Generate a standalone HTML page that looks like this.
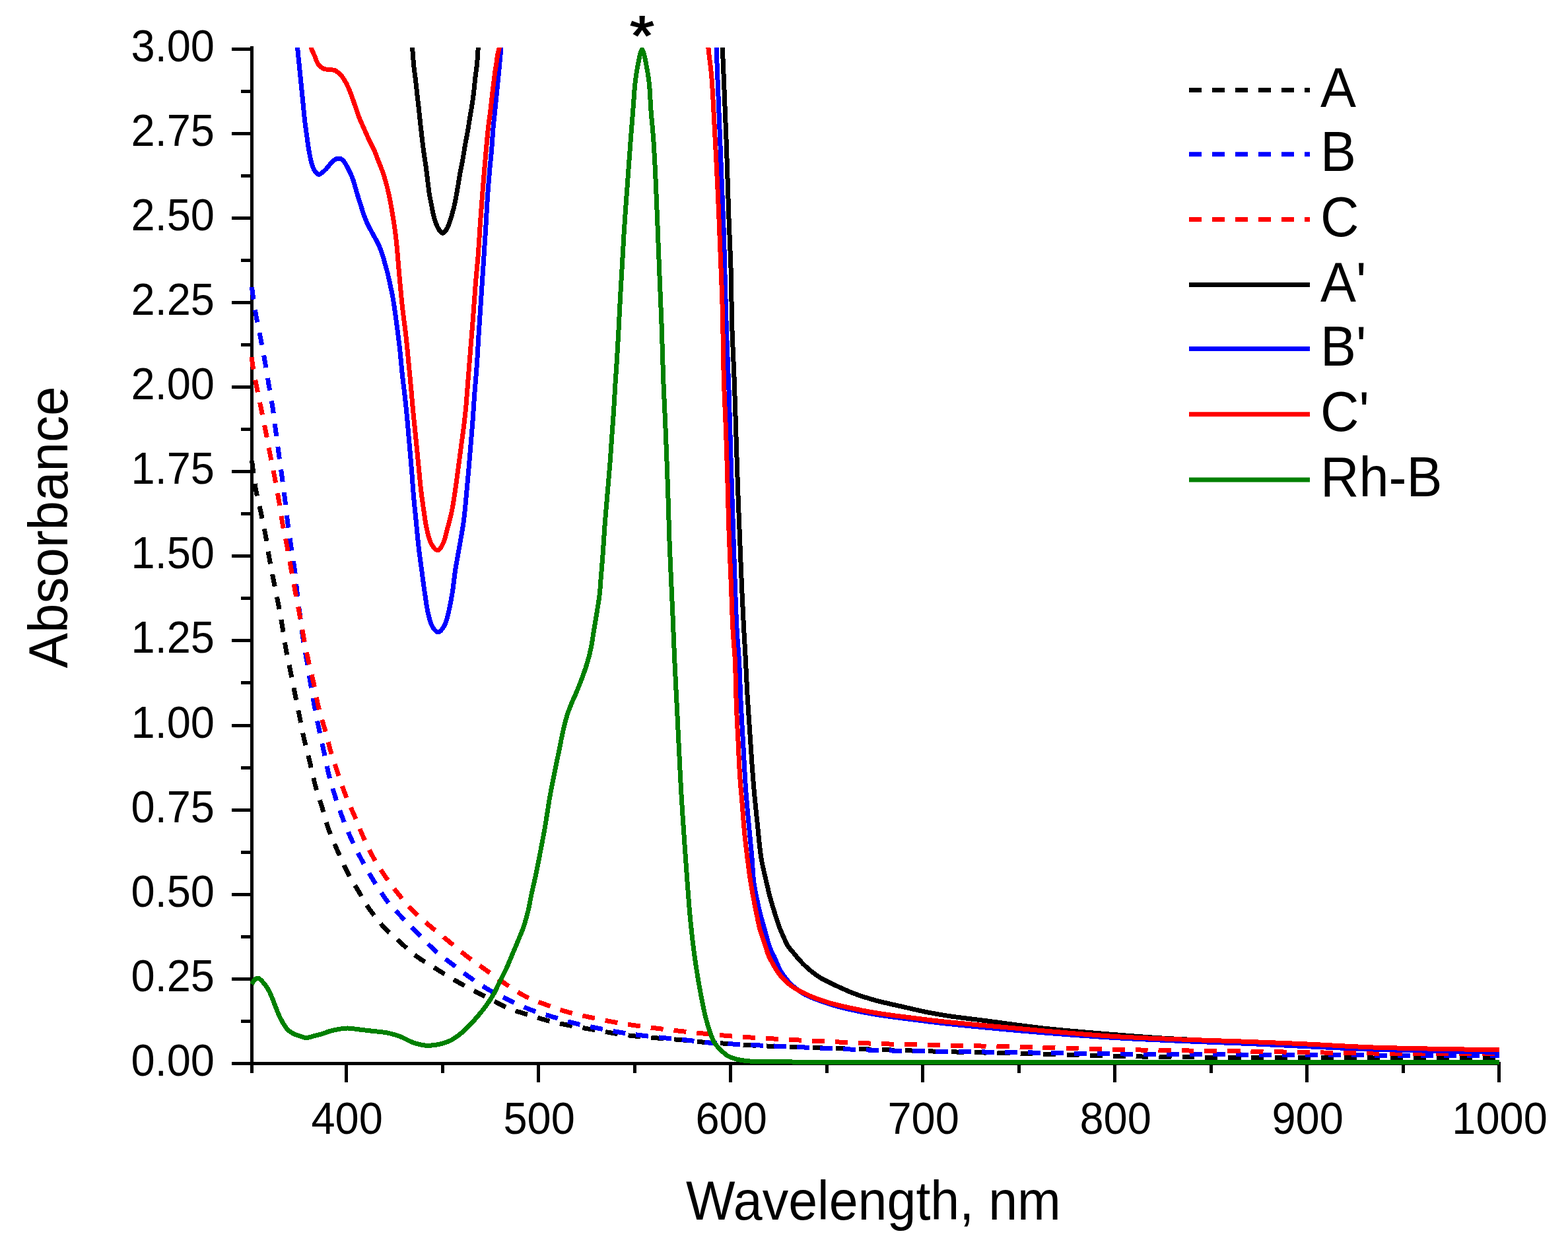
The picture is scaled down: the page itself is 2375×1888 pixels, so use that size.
<!DOCTYPE html>
<html><head><meta charset="utf-8"><title>Absorbance spectra</title>
<style>
html,body{margin:0;padding:0;background:#fff;}
body{width:2375px;height:1888px;overflow:hidden;}
svg{display:block;}
text{font-family:'Liberation Sans',Arial,sans-serif;fill:#000;}
</style></head><body>
<svg width="2375" height="1888" viewBox="0 0 2375 1888">
<rect width="2375" height="1888" fill="#fff"/>
<g stroke="#000" stroke-width="5" stroke-linecap="butt" shape-rendering="crispEdges">
<line x1="381.5" y1="69.5" x2="381.5" y2="1626" />
<line x1="351" y1="1611.5" x2="2273" y2="1611.5" />
<line x1="351" y1="1611.50" x2="381.5" y2="1611.50" />
<line x1="351" y1="1483.38" x2="381.5" y2="1483.38" />
<line x1="351" y1="1355.25" x2="381.5" y2="1355.25" />
<line x1="351" y1="1227.12" x2="381.5" y2="1227.12" />
<line x1="351" y1="1099.00" x2="381.5" y2="1099.00" />
<line x1="351" y1="970.88" x2="381.5" y2="970.88" />
<line x1="351" y1="842.75" x2="381.5" y2="842.75" />
<line x1="351" y1="714.62" x2="381.5" y2="714.62" />
<line x1="351" y1="586.50" x2="381.5" y2="586.50" />
<line x1="351" y1="458.38" x2="381.5" y2="458.38" />
<line x1="351" y1="330.25" x2="381.5" y2="330.25" />
<line x1="351" y1="202.12" x2="381.5" y2="202.12" />
<line x1="351" y1="74.00" x2="381.5" y2="74.00" />
<line x1="365" y1="1547.44" x2="381.5" y2="1547.44" />
<line x1="365" y1="1419.31" x2="381.5" y2="1419.31" />
<line x1="365" y1="1291.19" x2="381.5" y2="1291.19" />
<line x1="365" y1="1163.06" x2="381.5" y2="1163.06" />
<line x1="365" y1="1034.94" x2="381.5" y2="1034.94" />
<line x1="365" y1="906.81" x2="381.5" y2="906.81" />
<line x1="365" y1="778.69" x2="381.5" y2="778.69" />
<line x1="365" y1="650.56" x2="381.5" y2="650.56" />
<line x1="365" y1="522.44" x2="381.5" y2="522.44" />
<line x1="365" y1="394.31" x2="381.5" y2="394.31" />
<line x1="365" y1="266.19" x2="381.5" y2="266.19" />
<line x1="365" y1="138.06" x2="381.5" y2="138.06" />
<line x1="524.70" y1="1611.5" x2="524.70" y2="1640" />
<line x1="815.68" y1="1611.5" x2="815.68" y2="1640" />
<line x1="1106.66" y1="1611.5" x2="1106.66" y2="1640" />
<line x1="1397.64" y1="1611.5" x2="1397.64" y2="1640" />
<line x1="1688.62" y1="1611.5" x2="1688.62" y2="1640" />
<line x1="1979.60" y1="1611.5" x2="1979.60" y2="1640" />
<line x1="2270.58" y1="1611.5" x2="2270.58" y2="1640" />
<line x1="670.19" y1="1611.5" x2="670.19" y2="1626" />
<line x1="961.17" y1="1611.5" x2="961.17" y2="1626" />
<line x1="1252.15" y1="1611.5" x2="1252.15" y2="1626" />
<line x1="1543.13" y1="1611.5" x2="1543.13" y2="1626" />
<line x1="1834.11" y1="1611.5" x2="1834.11" y2="1626" />
<line x1="2125.09" y1="1611.5" x2="2125.09" y2="1626" />
</g>
<g fill="none" stroke-linejoin="round">
<clipPath id="pc"><rect x="300" y="72" width="2000" height="1600"/></clipPath>
<g clip-path="url(#pc)" shape-rendering="crispEdges">
<path d="M381.50,698.00 C383.50,712.67 385.02,728.12 387.50,742.00 C389.76,754.65 393.00,766.25 395.50,778.00 C397.89,789.23 400.14,799.82 402.20,811.00 C404.32,822.48 405.94,834.43 408.00,846.00 C410.04,857.43 412.27,868.59 414.50,880.00 C416.77,891.59 419.28,903.32 421.50,915.00 C423.71,926.66 425.84,938.41 427.80,950.00 C429.73,961.41 431.15,972.65 433.20,984.00 C435.28,995.48 437.88,1006.95 440.20,1018.50 C442.54,1030.15 444.86,1041.96 447.20,1053.60 C449.52,1065.13 451.87,1076.53 454.20,1088.00 C456.53,1099.47 458.62,1110.99 461.20,1122.40 C463.78,1133.82 466.94,1145.09 469.70,1156.50 C472.47,1167.96 474.71,1179.67 477.80,1191.00 C480.85,1202.20 484.73,1213.06 488.10,1224.10 C491.46,1235.12 494.10,1246.26 498.00,1257.20 C501.98,1268.36 507.06,1279.60 511.80,1290.40 C516.40,1300.88 520.84,1311.18 526.00,1321.10 C531.09,1330.87 536.87,1340.07 542.50,1349.50 C548.17,1359.00 553.49,1368.78 559.90,1377.90 C566.38,1387.12 573.53,1396.23 581.20,1404.50 C588.80,1412.69 597.47,1419.90 605.70,1427.30 C613.81,1434.59 621.47,1442.08 630.20,1448.60 C639.09,1455.24 649.25,1460.83 658.60,1466.70 C667.64,1472.38 676.27,1477.94 685.40,1483.30 C694.67,1488.74 704.36,1494.05 713.80,1499.10 C723.03,1504.04 732.00,1508.54 741.40,1513.30 C751.15,1518.24 761.04,1524.00 771.30,1528.20 C781.54,1532.39 792.28,1535.21 802.90,1538.50 C813.58,1541.81 824.22,1545.24 835.20,1548.00 C846.41,1550.82 858.01,1553.00 869.50,1555.20 C881.01,1557.40 892.72,1559.22 904.20,1561.20 C915.52,1563.15 926.75,1565.37 937.90,1567.00 C948.81,1568.59 959.56,1569.82 970.40,1570.90 C981.22,1571.98 991.97,1572.64 1002.90,1573.50 C1014.03,1574.37 1025.59,1575.09 1036.60,1576.10 C1047.21,1577.07 1057.28,1578.54 1067.80,1579.40 C1078.51,1580.28 1089.70,1580.60 1100.30,1581.30 C1110.45,1581.97 1117.24,1582.77 1130.10,1583.50 C1153.62,1584.84 1196.69,1586.35 1230.00,1587.50 C1263.32,1588.65 1296.67,1589.40 1330.00,1590.40 C1363.33,1591.40 1396.67,1592.57 1430.00,1593.50 C1463.33,1594.43 1492.27,1595.03 1530.00,1596.00 C1579.19,1597.27 1642.52,1599.42 1700.00,1600.50 C1759.14,1601.61 1818.42,1602.08 1880.00,1602.50 C1944.91,1602.94 2014.14,1602.83 2080.00,1603.00 C2144.30,1603.16 2207.07,1603.33 2270.60,1603.50" stroke="#000" stroke-width="7" stroke-dasharray="19 16"/>
<path d="M381.50,435.00 C381.87,438.00 382.05,440.01 382.60,444.00 C383.71,452.01 386.09,468.11 388.20,480.00 C390.29,491.77 392.97,503.41 395.20,515.00 C397.40,526.41 399.50,537.57 401.50,549.00 C403.53,560.57 405.35,572.33 407.30,584.00 C409.25,595.67 411.45,607.32 413.20,619.00 C414.95,630.65 416.25,642.33 417.80,654.00 C419.35,665.67 420.92,677.42 422.50,689.00 C424.06,700.42 425.66,711.58 427.20,723.00 C428.76,734.58 430.34,746.25 431.80,758.00 C433.28,769.91 434.45,782.04 436.00,794.00 C437.55,805.91 439.34,817.79 441.10,829.60 C442.84,841.32 444.97,852.92 446.50,864.60 C448.03,876.25 448.94,887.91 450.30,899.60 C451.67,911.37 453.20,923.24 454.70,935.00 C456.20,946.70 457.54,958.44 459.30,970.00 C461.04,981.43 463.27,992.53 465.20,1004.00 C467.17,1015.73 469.04,1027.93 471.00,1039.60 C472.90,1050.92 474.68,1061.75 476.80,1073.00 C478.97,1084.55 481.45,1096.34 483.90,1108.00 C486.35,1119.68 489.00,1131.43 491.50,1143.00 C493.96,1154.36 495.89,1165.45 498.80,1176.80 C501.82,1188.55 505.61,1200.72 509.40,1212.30 C513.09,1223.58 516.90,1234.43 521.20,1245.40 C525.56,1256.50 530.30,1267.68 535.40,1278.50 C540.47,1289.25 546.01,1299.79 551.70,1310.10 C557.32,1320.28 563.16,1330.33 569.30,1340.00 C575.33,1349.49 581.18,1358.82 588.20,1367.60 C595.38,1376.57 604.05,1384.86 612.00,1393.20 C619.78,1401.35 627.46,1409.13 635.40,1417.10 C643.49,1425.22 651.39,1433.89 660.10,1441.50 C668.82,1449.13 678.61,1455.86 687.70,1462.80 C696.50,1469.52 704.93,1476.28 713.80,1482.50 C722.57,1488.64 731.10,1494.41 740.60,1499.90 C750.72,1505.75 762.06,1511.25 772.90,1516.40 C783.59,1521.48 794.31,1526.49 805.20,1530.60 C815.89,1534.63 826.77,1537.58 837.60,1540.90 C848.43,1544.22 859.12,1547.69 870.20,1550.50 C881.51,1553.37 893.21,1555.59 904.80,1557.90 C916.44,1560.22 928.41,1562.52 939.90,1564.40 C950.90,1566.20 961.23,1567.61 972.30,1569.00 C983.90,1570.46 996.31,1571.70 1008.00,1572.90 C1019.26,1574.06 1030.21,1574.91 1041.20,1576.10 C1052.07,1577.28 1062.51,1579.02 1073.60,1580.00 C1085.22,1581.02 1098.13,1581.41 1109.40,1582.00 C1119.47,1582.53 1125.76,1582.83 1138.00,1583.40 C1159.95,1584.43 1198.69,1586.18 1230.00,1587.50 C1262.64,1588.88 1296.66,1590.55 1330.00,1591.50 C1363.33,1592.45 1396.67,1592.70 1430.00,1593.20 C1463.33,1593.70 1492.27,1593.98 1530.00,1594.50 C1579.19,1595.18 1642.52,1596.42 1700.00,1597.00 C1759.14,1597.60 1818.42,1597.67 1880.00,1598.00 C1944.91,1598.34 2014.14,1598.66 2080.00,1599.00 C2144.30,1599.33 2207.07,1599.67 2270.60,1600.00" stroke="#0000ff" stroke-width="7" stroke-dasharray="19 16"/>
<path d="M381.50,541.00 C381.77,544.33 381.73,546.67 382.30,551.00 C383.37,559.15 386.45,574.43 388.70,586.00 C390.92,597.43 393.38,608.58 395.70,620.00 C398.05,631.58 400.43,643.41 402.70,655.00 C404.93,666.41 406.97,677.59 409.20,689.00 C411.47,700.59 413.98,712.32 416.20,724.00 C418.41,735.66 420.53,747.32 422.50,759.00 C424.46,770.66 425.94,782.44 428.00,794.00 C430.04,805.44 432.63,816.59 434.80,828.00 C437.00,839.52 438.97,851.09 441.10,862.80 C443.27,874.75 445.49,887.09 447.70,899.00 C449.86,910.62 452.08,921.85 454.20,933.40 C456.35,945.09 458.26,957.06 460.50,968.70 C462.70,980.15 465.03,991.49 467.50,1002.70 C469.93,1013.75 472.73,1024.21 475.20,1035.50 C477.81,1047.47 479.79,1060.72 482.70,1072.60 C485.44,1083.80 488.94,1093.90 492.00,1104.90 C495.18,1116.34 498.03,1128.60 501.40,1140.00 C504.65,1150.98 508.14,1161.34 511.80,1172.10 C515.53,1183.08 519.30,1194.23 523.60,1205.20 C527.96,1216.30 533.11,1227.26 537.80,1238.30 C542.48,1249.32 546.77,1260.64 551.70,1271.40 C556.52,1281.93 561.32,1292.23 567.00,1302.20 C572.71,1312.23 579.36,1322.06 585.90,1331.40 C592.24,1340.44 598.61,1348.88 605.60,1357.40 C612.79,1366.16 620.40,1375.18 628.50,1383.20 C636.48,1391.10 645.24,1397.99 653.80,1405.20 C662.38,1412.43 671.15,1419.32 679.90,1426.50 C688.78,1433.79 697.73,1441.65 706.70,1448.60 C715.33,1455.29 722.15,1460.10 732.70,1467.50 C748.63,1478.67 775.92,1499.09 793.40,1508.50 C805.48,1515.00 814.86,1517.80 825.70,1521.90 C836.43,1525.96 847.14,1529.82 858.10,1533.00 C869.07,1536.19 880.18,1538.49 891.50,1541.00 C903.11,1543.57 915.40,1546.09 926.90,1548.20 C937.76,1550.19 947.93,1551.80 958.70,1553.40 C969.78,1555.04 981.13,1556.46 992.50,1557.90 C1004.06,1559.36 1015.87,1560.80 1027.50,1562.10 C1039.04,1563.39 1050.57,1564.54 1062.00,1565.70 C1073.30,1566.84 1084.51,1568.03 1095.70,1569.00 C1106.78,1569.96 1114.76,1570.59 1128.80,1571.50 C1153.34,1573.09 1196.36,1575.33 1230.00,1577.00 C1263.43,1578.66 1296.66,1580.37 1330.00,1581.50 C1363.33,1582.63 1396.67,1583.05 1430.00,1583.80 C1463.33,1584.55 1492.27,1585.09 1530.00,1586.00 C1579.19,1587.19 1642.52,1589.34 1700.00,1590.50 C1759.14,1591.69 1818.42,1592.11 1880.00,1593.00 C1944.91,1593.94 2014.13,1595.33 2080.00,1596.00 C2144.30,1596.65 2207.07,1596.67 2270.60,1597.00" stroke="#ff0000" stroke-width="7" stroke-dasharray="19 16"/>
<path d="M621.50,30.00 C622.53,43.97 623.63,59.23 624.60,71.90 C625.41,82.43 625.99,92.01 626.90,100.80 C627.67,108.20 628.70,114.40 629.50,121.20 C630.30,128.00 630.93,134.80 631.70,141.60 C632.47,148.40 633.30,154.79 634.10,162.00 C635.00,170.14 635.89,179.60 636.80,188.00 C637.66,195.90 638.50,203.51 639.40,211.00 C640.27,218.16 641.13,225.00 642.10,232.00 C643.07,239.00 644.25,245.99 645.20,253.00 C646.15,259.99 646.92,266.99 647.80,274.00 C648.68,281.03 649.44,288.60 650.50,295.10 C651.42,300.74 652.55,305.56 653.60,310.80 C654.65,316.06 655.52,321.56 656.80,326.60 C658.01,331.33 659.29,336.15 661.00,340.20 C662.49,343.73 664.30,347.41 666.20,349.70 C667.58,351.36 669.10,353.34 670.60,353.30 C672.26,353.25 674.18,350.71 675.70,348.60 C677.75,345.75 679.37,341.15 680.90,337.10 C682.53,332.78 683.84,327.89 685.10,323.40 C686.30,319.13 687.30,315.24 688.30,310.80 C689.41,305.87 690.43,300.35 691.40,295.10 C692.37,289.85 693.22,284.57 694.10,279.30 C694.98,274.03 695.75,268.75 696.70,263.50 C697.65,258.25 698.83,253.05 699.80,247.80 C700.77,242.55 701.62,237.26 702.50,232.00 C703.38,226.76 704.15,221.65 705.10,216.30 C706.10,210.67 707.35,205.01 708.40,199.00 C709.53,192.51 710.51,185.31 711.60,178.70 C712.64,172.39 713.82,166.53 714.80,160.20 C715.83,153.57 716.76,146.76 717.60,139.80 C718.47,132.54 719.08,124.58 719.90,117.50 C720.65,111.04 721.61,105.76 722.30,99.00 C723.13,90.84 723.63,81.30 724.30,71.90 C725.03,61.70 725.77,50.63 726.50,40.00 M1091.00,30.00 C1092.07,44.47 1093.25,57.36 1094.20,73.40 C1095.38,93.33 1096.21,117.11 1097.20,140.50 C1098.28,166.13 1099.36,192.31 1100.40,221.10 C1101.60,254.33 1102.70,295.28 1103.90,328.50 C1104.94,357.27 1106.29,381.72 1107.10,409.00 C1107.94,437.19 1107.93,466.78 1108.80,495.00 C1109.65,522.38 1111.21,549.36 1112.20,575.90 C1113.16,601.60 1113.83,625.34 1114.70,651.80 C1115.65,680.81 1116.65,714.00 1117.70,743.00 C1118.66,769.46 1119.68,793.60 1120.70,818.90 C1121.72,844.20 1122.72,870.91 1123.80,894.80 C1124.76,916.16 1125.79,936.84 1126.80,955.50 C1127.66,971.48 1128.57,984.55 1129.40,1000.00 C1130.31,1016.78 1130.98,1035.00 1132.00,1052.50 C1133.02,1070.03 1134.33,1087.58 1135.50,1105.10 C1136.67,1122.61 1137.78,1140.90 1139.00,1157.60 C1140.12,1172.86 1141.18,1186.81 1142.50,1201.40 C1143.82,1216.01 1145.27,1229.77 1146.90,1245.20 C1148.73,1262.50 1150.37,1284.01 1153.00,1300.20 C1155.11,1313.18 1158.08,1324.37 1160.50,1335.00 C1162.56,1344.03 1164.40,1352.16 1166.50,1360.00 C1168.39,1367.06 1170.55,1373.93 1172.40,1380.00 C1173.95,1385.09 1175.25,1389.35 1176.80,1394.00 C1178.35,1398.68 1180.01,1403.70 1181.70,1408.00 C1183.19,1411.78 1184.58,1414.73 1186.30,1418.50 C1188.34,1422.96 1190.43,1428.58 1193.20,1433.00 C1195.87,1437.25 1199.42,1440.85 1202.50,1444.60 C1205.45,1448.20 1208.31,1451.80 1211.30,1455.10 C1214.15,1458.25 1216.81,1461.02 1220.00,1464.00 C1223.54,1467.32 1227.73,1470.95 1231.70,1474.00 C1235.50,1476.92 1238.99,1479.43 1243.30,1482.00 C1248.27,1484.96 1253.47,1487.38 1260.00,1490.50 C1269.00,1494.80 1281.55,1500.80 1292.50,1505.00 C1303.22,1509.11 1313.18,1512.21 1325.00,1515.50 C1338.82,1519.35 1356.50,1522.98 1370.50,1526.20 C1382.48,1528.95 1392.75,1531.48 1403.90,1533.70 C1414.98,1535.91 1424.80,1537.62 1437.20,1539.50 C1452.76,1541.86 1469.97,1543.72 1490.00,1546.30 C1516.44,1549.71 1550.07,1554.72 1582.00,1558.20 C1616.52,1561.97 1657.88,1565.18 1690.00,1567.80 C1715.84,1569.91 1736.66,1571.55 1760.00,1573.00 C1783.32,1574.45 1808.62,1575.54 1830.00,1576.50 C1848.06,1577.31 1860.47,1577.72 1880.00,1578.50 C1907.61,1579.60 1946.67,1581.00 1980.00,1582.50 C2013.34,1584.00 2041.33,1586.13 2080.00,1587.50 C2133.36,1589.39 2207.07,1590.17 2270.60,1591.50" stroke="#000" stroke-width="7"/>
<path d="M449.80,30.00 C450.13,44.37 450.07,60.80 450.80,73.10 C451.35,82.33 452.28,88.94 453.10,97.30 C453.98,106.29 454.97,115.96 455.90,125.30 C456.83,134.66 457.77,144.04 458.70,153.40 C459.63,162.74 460.42,172.08 461.50,181.40 C462.58,190.74 463.92,200.41 465.20,209.40 C466.39,217.77 467.38,226.09 468.90,233.60 C470.24,240.27 471.81,247.50 473.60,252.30 C474.80,255.51 475.83,257.93 477.50,260.00 C479.00,261.86 481.07,264.25 482.90,264.40 C484.58,264.54 486.29,262.73 488.00,261.50 C490.02,260.04 491.93,258.25 494.10,256.00 C496.99,253.00 500.62,247.42 503.50,244.80 C505.45,243.03 507.06,241.76 509.00,241.00 C510.80,240.30 512.98,239.89 514.70,240.20 C516.28,240.48 517.64,241.31 519.00,242.50 C520.80,244.08 522.32,246.76 524.00,249.50 C526.15,253.00 528.61,257.92 530.50,262.00 C532.23,265.74 533.68,269.22 535.00,273.00 C536.35,276.88 537.33,281.00 538.50,285.00 C539.67,289.00 540.81,293.09 542.00,297.00 C543.14,300.75 544.31,304.25 545.50,308.00 C546.74,311.91 547.97,316.01 549.30,320.00 C550.64,324.01 551.94,328.12 553.50,332.00 C555.02,335.78 556.65,339.29 558.50,343.00 C560.46,346.95 562.83,351.00 565.00,355.00 C567.17,359.00 569.54,363.05 571.50,367.00 C573.35,370.71 575.01,374.21 576.50,378.00 C578.02,381.87 579.28,385.98 580.50,390.00 C581.71,393.98 582.73,398.09 583.80,402.00 C584.83,405.75 585.85,409.24 586.80,413.00 C587.79,416.90 588.70,421.00 589.60,425.00 C590.50,429.00 591.37,433.09 592.20,437.00 C593.00,440.74 593.80,444.25 594.50,448.00 C595.23,451.91 595.76,455.14 596.50,460.00 C597.65,467.51 599.13,478.35 600.50,488.70 C602.11,500.86 604.02,515.16 605.50,528.40 C606.98,541.60 608.03,555.33 609.40,568.00 C610.67,579.72 612.16,590.58 613.40,601.80 C614.63,612.91 615.79,624.27 616.80,635.00 C617.74,645.07 618.37,653.52 619.30,664.30 C620.45,677.57 621.98,693.90 623.20,708.70 C624.42,723.47 625.39,739.29 626.60,753.00 C627.65,764.90 628.72,774.41 629.90,786.30 C631.26,800.01 632.71,816.91 634.30,830.60 C635.68,842.48 637.22,852.73 638.70,863.80 C640.18,874.89 641.54,886.01 643.20,897.10 C644.87,908.21 646.31,920.80 648.70,930.40 C650.59,937.97 652.26,945.48 655.40,950.30 C657.71,953.85 660.98,958.11 663.80,958.00 C666.88,957.89 670.60,952.42 673.10,948.10 C676.36,942.45 677.85,933.84 679.80,925.90 C681.99,916.98 683.69,907.07 685.30,897.10 C687.02,886.43 688.15,873.96 689.70,863.80 C691.01,855.19 692.44,847.78 693.80,840.00 C695.11,832.52 696.37,825.78 697.70,818.00 C699.20,809.23 701.06,799.09 702.30,790.00 C703.46,781.45 704.20,773.07 705.00,765.00 C705.75,757.44 706.29,750.71 707.00,743.00 C707.78,734.46 708.71,724.92 709.50,716.00 C710.27,707.25 710.96,698.83 711.70,690.00 C712.46,680.84 713.23,671.33 714.00,662.00 C714.77,652.67 715.57,643.81 716.30,634.00 C717.11,623.15 717.70,611.99 718.60,599.70 C719.65,585.42 721.22,568.85 722.30,553.40 C723.38,537.95 724.07,523.17 725.10,507.00 C726.22,489.28 727.57,469.86 728.80,451.30 C730.03,432.76 731.31,413.81 732.50,395.70 C733.64,378.41 734.81,361.28 735.80,345.00 C736.72,329.87 737.33,315.57 738.30,301.20 C739.24,287.25 740.39,272.97 741.50,260.00 C742.50,248.39 743.68,237.96 744.60,227.00 C745.51,216.13 746.12,204.42 747.00,194.50 C747.74,186.11 748.62,179.03 749.40,171.30 C750.18,163.57 750.93,155.83 751.70,148.10 C752.47,140.37 753.23,132.63 754.00,124.90 C754.77,117.17 755.55,109.58 756.30,101.70 C757.08,93.52 757.82,85.83 758.60,76.70 C759.55,65.64 760.53,52.23 761.50,40.00 M1082.50,30.00 C1083.37,44.47 1084.30,57.36 1085.10,73.40 C1086.10,93.34 1086.87,117.11 1087.80,140.50 C1088.82,166.14 1089.98,195.46 1091.00,221.10 C1091.93,244.49 1092.80,265.83 1093.70,288.20 C1094.60,310.57 1095.62,331.91 1096.40,355.30 C1097.25,380.91 1097.75,409.51 1098.50,435.80 C1099.22,461.04 1099.91,484.72 1100.80,510.00 C1101.73,536.43 1103.01,562.24 1104.00,591.10 C1105.13,624.14 1106.04,663.33 1107.10,697.40 C1108.08,728.94 1109.10,758.13 1110.10,788.50 C1111.10,818.87 1112.03,850.62 1113.10,879.60 C1114.08,906.06 1114.96,933.57 1116.20,955.50 C1117.15,972.31 1118.45,983.49 1119.40,1000.00 C1120.59,1020.69 1121.27,1047.44 1122.40,1070.00 C1123.46,1091.11 1124.73,1110.87 1125.90,1131.30 C1127.07,1151.73 1128.02,1172.96 1129.40,1192.60 C1130.68,1210.81 1132.22,1227.48 1133.80,1245.20 C1135.42,1263.33 1137.62,1283.95 1139.00,1300.20 C1140.09,1313.12 1140.27,1324.39 1141.60,1335.00 C1142.73,1344.05 1144.38,1351.86 1146.00,1360.00 C1147.56,1367.84 1149.14,1375.20 1151.10,1383.00 C1153.15,1391.19 1155.88,1400.03 1158.10,1408.00 C1160.13,1415.30 1162.06,1423.15 1163.90,1429.00 C1165.25,1433.28 1166.27,1436.42 1167.80,1440.00 C1169.34,1443.59 1171.47,1446.97 1173.10,1450.50 C1174.70,1453.97 1175.94,1457.52 1177.50,1461.00 C1179.07,1464.52 1180.50,1468.08 1182.50,1471.50 C1184.60,1475.09 1187.21,1478.58 1189.90,1482.00 C1192.69,1485.55 1195.83,1489.39 1199.00,1492.40 C1201.89,1495.14 1204.96,1497.25 1208.00,1499.50 C1210.99,1501.71 1213.61,1503.80 1217.10,1505.80 C1221.31,1508.21 1226.79,1510.59 1231.70,1512.60 C1236.52,1514.58 1241.51,1516.12 1246.30,1517.80 C1250.93,1519.42 1254.63,1520.89 1260.00,1522.50 C1267.45,1524.74 1277.49,1527.32 1287.00,1529.50 C1297.51,1531.91 1309.24,1534.25 1320.40,1536.20 C1331.51,1538.14 1342.66,1539.65 1353.80,1541.20 C1364.93,1542.75 1376.07,1544.08 1387.20,1545.50 C1398.33,1546.92 1407.44,1548.20 1420.60,1549.70 C1439.54,1551.86 1465.23,1554.43 1490.00,1556.80 C1518.50,1559.53 1550.09,1562.46 1582.00,1565.00 C1616.55,1567.75 1654.68,1570.49 1690.00,1572.60 C1723.96,1574.63 1757.54,1576.07 1790.00,1577.50 C1820.79,1578.85 1844.09,1579.49 1880.00,1581.00 C1933.53,1583.25 2014.12,1587.74 2080.00,1590.00 C2144.29,1592.21 2207.07,1593.00 2270.60,1594.50" stroke="#0000ff" stroke-width="7"/>
<path d="M467.50,30.00 C468.90,44.37 469.28,63.52 471.70,73.10 C472.98,78.18 474.76,80.43 476.40,84.30 C478.18,88.48 479.53,93.90 482.00,97.30 C484.07,100.16 486.58,102.50 489.50,103.90 C492.47,105.33 496.56,105.21 499.70,105.70 C502.39,106.12 504.71,105.64 507.20,106.70 C510.32,108.03 513.76,111.13 516.50,114.10 C519.41,117.26 521.67,121.07 524.00,125.30 C526.73,130.25 529.20,136.38 531.50,142.20 C533.88,148.20 535.82,154.59 538.00,160.80 C540.19,167.03 542.21,173.48 544.60,179.50 C546.90,185.29 549.52,190.70 552.00,196.30 C554.48,201.90 556.94,207.70 559.50,213.10 C561.94,218.25 564.70,222.83 567.00,228.00 C569.39,233.38 571.33,239.20 573.50,244.80 C575.67,250.40 578.02,255.81 580.00,261.60 C582.06,267.63 583.91,273.89 585.60,280.30 C587.36,286.97 588.90,294.03 590.30,300.90 C591.69,307.73 592.81,314.41 594.00,321.40 C595.24,328.70 596.52,336.17 597.60,343.80 C598.73,351.73 599.58,358.34 600.60,368.10 C602.14,382.80 603.76,405.86 605.40,423.50 C606.90,439.66 608.35,455.31 610.00,469.90 C611.48,482.97 613.22,493.93 614.70,507.00 C616.35,521.59 617.88,538.85 619.30,553.40 C620.56,566.32 621.74,578.40 622.80,590.00 C623.76,600.49 624.43,609.74 625.40,620.00 C626.42,630.81 627.60,641.41 628.80,653.30 C630.18,667.01 631.73,682.83 633.20,697.60 C634.67,712.37 635.99,728.20 637.60,741.90 C639.00,753.80 640.53,764.73 642.10,775.20 C643.51,784.58 644.54,793.40 646.50,801.80 C648.31,809.57 649.85,818.27 653.20,823.90 C655.82,828.29 660.09,834.08 663.10,833.90 C665.96,833.73 668.71,828.14 670.90,823.90 C673.85,818.18 675.37,809.53 677.50,801.80 C679.82,793.37 682.24,784.61 684.20,775.20 C686.37,764.77 688.03,753.00 689.70,741.90 C691.36,730.84 692.72,719.78 694.20,708.70 C695.68,697.61 697.13,686.49 698.60,675.40 C700.07,664.32 701.77,652.37 703.00,642.20 C704.04,633.59 704.73,627.58 705.60,618.30 C706.82,605.38 708.07,587.37 709.30,571.90 C710.53,556.43 711.77,540.97 713.00,525.50 C714.23,510.03 715.49,494.86 716.70,479.10 C717.96,462.75 719.10,445.10 720.40,429.10 C721.61,414.30 723.07,400.94 724.20,386.40 C725.38,371.26 726.15,356.29 727.30,340.00 C728.58,321.88 730.19,300.31 731.60,282.60 C732.82,267.34 733.91,254.57 735.20,240.00 C736.56,224.64 738.18,205.37 739.60,192.70 C740.56,184.16 741.54,178.35 742.40,171.30 C743.24,164.42 743.92,157.62 744.70,150.90 C745.46,144.33 746.22,137.90 747.00,131.40 C747.78,124.90 748.56,117.95 749.40,111.90 C750.13,106.62 750.95,102.12 751.70,97.10 C752.48,91.92 753.11,85.87 754.00,81.30 C754.69,77.74 755.60,75.99 756.30,71.90 C757.58,64.45 758.43,50.63 759.50,40.00 M1070.50,30.00 C1071.33,44.47 1071.78,59.22 1073.00,73.40 C1074.18,87.10 1076.28,98.54 1077.60,113.70 C1079.29,133.21 1080.35,158.43 1081.60,180.80 C1082.85,203.16 1083.98,225.53 1085.10,247.90 C1086.22,270.27 1087.32,292.63 1088.30,315.00 C1089.28,337.36 1090.10,359.72 1091.00,382.10 C1091.90,404.49 1093.04,428.47 1093.70,449.30 C1094.28,467.39 1094.50,481.40 1094.90,500.00 C1095.39,522.76 1095.63,550.60 1096.40,575.90 C1097.17,601.20 1098.58,626.49 1099.50,651.80 C1100.42,677.12 1101.15,702.47 1101.90,727.80 C1102.65,753.11 1103.13,778.40 1104.00,803.70 C1104.87,829.00 1106.08,854.30 1107.10,879.60 C1108.12,904.90 1108.88,933.57 1110.10,955.50 C1111.04,972.31 1112.46,983.48 1113.30,1000.00 C1114.35,1020.69 1114.54,1048.33 1115.40,1070.00 C1116.15,1088.79 1117.13,1105.08 1118.00,1122.60 C1118.87,1140.11 1119.50,1158.40 1120.60,1175.10 C1121.61,1190.37 1123.02,1204.30 1124.20,1218.90 C1125.38,1233.50 1126.34,1248.68 1127.70,1262.70 C1128.96,1275.70 1130.47,1287.94 1132.00,1300.20 C1133.48,1312.02 1134.96,1323.85 1136.70,1335.00 C1138.32,1345.39 1140.26,1355.78 1142.00,1365.00 C1143.49,1372.91 1144.90,1379.76 1146.40,1387.00 C1147.87,1394.09 1149.00,1401.05 1150.90,1408.00 C1152.83,1415.05 1155.63,1422.17 1157.90,1429.00 C1160.06,1435.49 1161.82,1442.35 1164.20,1448.00 C1166.23,1452.83 1168.63,1456.93 1170.90,1461.00 C1172.97,1464.72 1174.87,1468.06 1177.20,1471.50 C1179.62,1475.07 1182.47,1478.94 1185.20,1482.00 C1187.59,1484.67 1190.00,1486.81 1192.50,1489.00 C1194.94,1491.14 1197.37,1493.17 1200.00,1495.00 C1202.64,1496.84 1205.26,1498.33 1208.30,1500.00 C1211.83,1501.93 1216.09,1503.93 1220.00,1505.80 C1223.89,1507.66 1227.77,1509.62 1231.70,1511.20 C1235.54,1512.74 1239.07,1513.79 1243.30,1515.20 C1248.35,1516.89 1253.73,1518.85 1260.00,1520.60 C1267.89,1522.81 1277.50,1524.92 1287.00,1527.00 C1297.52,1529.30 1309.24,1531.75 1320.40,1533.70 C1331.51,1535.64 1342.66,1537.17 1353.80,1538.70 C1364.92,1540.23 1376.07,1541.52 1387.20,1542.90 C1398.33,1544.28 1407.44,1545.56 1420.60,1547.00 C1439.54,1549.08 1465.24,1551.39 1490.00,1553.70 C1518.51,1556.36 1550.10,1559.29 1582.00,1562.00 C1616.55,1564.93 1654.67,1568.42 1690.00,1570.60 C1723.96,1572.70 1757.54,1573.74 1790.00,1575.00 C1820.79,1576.19 1849.21,1576.87 1880.00,1578.00 C1912.46,1579.19 1946.67,1580.50 1980.00,1582.00 C2013.34,1583.50 2041.33,1585.63 2080.00,1587.00 C2133.36,1588.89 2207.07,1589.67 2270.60,1591.00" stroke="#ff0000" stroke-width="7"/>
<path d="M381.50,1491.50 C382.87,1489.17 383.80,1486.04 385.60,1484.50 C387.15,1483.18 389.29,1481.97 391.20,1482.30 C393.69,1482.73 396.48,1486.31 398.90,1489.00 C401.69,1492.10 404.47,1496.20 406.70,1500.10 C408.93,1504.00 410.49,1508.11 412.30,1512.40 C414.23,1516.98 416.02,1522.09 417.90,1526.80 C419.72,1531.36 421.34,1535.89 423.40,1540.20 C425.42,1544.42 427.73,1548.73 430.10,1552.40 C432.22,1555.68 434.15,1558.86 436.80,1561.30 C439.37,1563.67 442.75,1565.47 445.70,1566.90 C448.32,1568.17 450.72,1568.81 453.50,1569.70 C456.61,1570.69 459.98,1572.41 463.50,1572.50 C467.38,1572.60 471.81,1570.66 475.80,1569.70 C479.60,1568.79 483.22,1568.01 486.90,1566.90 C490.63,1565.78 494.27,1564.12 498.00,1563.00 C501.70,1561.89 505.08,1560.99 509.20,1560.20 C514.17,1559.25 520.00,1558.07 525.80,1558.00 C532.18,1557.93 539.21,1559.45 545.90,1560.20 C552.58,1560.95 559.32,1561.74 565.90,1562.50 C572.31,1563.24 579.16,1563.66 584.90,1564.70 C589.76,1565.58 594.00,1566.74 598.20,1568.00 C602.10,1569.16 605.45,1570.28 609.30,1571.90 C613.70,1573.75 618.26,1576.80 623.10,1578.70 C628.11,1580.66 633.88,1582.51 638.90,1583.40 C643.29,1584.18 647.08,1584.38 651.50,1584.20 C656.46,1584.00 662.02,1583.18 667.20,1581.90 C672.52,1580.58 677.90,1578.92 683.00,1576.30 C688.46,1573.50 693.96,1569.22 698.80,1565.30 C703.38,1561.59 707.30,1557.72 711.40,1553.50 C715.70,1549.08 719.86,1544.22 724.00,1539.30 C728.27,1534.23 732.66,1528.99 736.60,1523.50 C740.57,1517.96 744.30,1512.20 747.70,1506.20 C751.15,1500.11 753.95,1493.52 757.10,1487.20 C760.25,1480.89 763.54,1474.90 766.60,1468.30 C769.86,1461.27 773.01,1453.28 776.00,1446.20 C778.76,1439.66 781.19,1433.94 783.90,1427.30 C786.90,1419.95 790.51,1411.89 793.20,1404.00 C795.88,1396.13 798.04,1388.12 800.00,1380.00 C801.98,1371.79 803.24,1363.27 805.00,1355.00 C806.74,1346.81 808.75,1338.76 810.50,1330.60 C812.25,1322.43 813.88,1314.18 815.50,1306.00 C817.11,1297.88 818.65,1289.82 820.20,1281.70 C821.75,1273.55 823.37,1265.38 824.80,1257.20 C826.23,1249.04 827.48,1240.87 828.80,1232.70 C830.12,1224.53 831.27,1216.36 832.70,1208.20 C834.13,1200.02 835.80,1191.86 837.40,1183.70 C839.00,1175.53 840.65,1167.34 842.30,1159.20 C843.95,1151.11 845.64,1143.12 847.30,1135.00 C848.98,1126.79 850.45,1118.42 852.30,1110.20 C854.15,1101.99 856.17,1093.08 858.40,1085.70 C860.29,1079.44 862.18,1074.45 864.50,1068.60 C867.02,1062.25 870.24,1055.89 873.10,1049.00 C876.24,1041.43 879.70,1032.67 882.50,1025.00 C885.04,1018.06 887.24,1011.97 889.30,1005.00 C891.50,997.55 893.53,989.66 895.20,981.60 C896.96,973.15 898.05,964.13 899.50,955.40 C900.95,946.67 902.47,938.18 903.90,929.20 C905.41,919.74 907.24,909.29 908.30,900.00 C909.26,891.57 909.48,884.88 910.20,875.80 C911.13,864.09 912.42,849.01 913.40,835.60 C914.38,822.18 915.14,807.98 916.10,795.30 C916.96,783.96 917.90,773.83 918.80,763.10 C919.70,752.37 920.60,741.63 921.50,730.90 C922.40,720.17 923.35,709.86 924.20,698.70 C925.12,686.63 925.92,673.55 926.80,661.00 C927.68,648.48 928.68,636.01 929.50,623.50 C930.32,610.98 930.90,598.65 931.70,585.90 C932.53,572.70 933.54,559.45 934.40,545.60 C935.31,530.87 936.16,515.60 937.00,500.00 C937.89,483.55 938.69,465.76 939.60,449.30 C940.46,433.67 941.41,419.04 942.30,403.60 C943.21,387.72 944.06,370.67 945.00,355.30 C945.86,341.26 946.78,327.95 947.70,315.00 C948.55,302.95 949.43,291.94 950.30,280.10 C951.20,267.83 952.07,255.32 953.00,242.60 C953.97,229.41 954.97,215.73 956.00,202.30 C957.03,188.87 958.18,174.95 959.20,162.00 C960.14,149.95 960.67,137.95 961.90,127.10 C962.98,117.56 964.09,109.06 965.90,100.30 C967.68,91.70 970.37,75.00 972.60,75.00 C974.83,75.00 977.51,91.70 979.30,100.30 C981.12,109.06 982.33,117.23 983.40,127.10 C984.71,139.14 984.98,153.97 986.00,167.40 C987.02,180.84 988.49,193.84 989.50,207.70 C990.58,222.42 991.43,238.33 992.20,253.30 C992.95,267.82 993.48,281.67 994.10,296.20 C994.74,311.19 995.36,326.05 996.00,341.90 C996.69,359.08 997.38,377.70 998.10,395.60 C998.82,413.50 999.57,431.66 1000.30,449.30 C1001.01,466.44 1001.73,481.44 1002.40,500.00 C1003.21,522.60 1003.80,551.66 1004.70,575.20 C1005.50,596.06 1006.53,613.90 1007.40,634.20 C1008.33,655.85 1009.28,679.64 1010.10,701.30 C1010.87,721.62 1011.54,740.49 1012.20,760.40 C1012.87,780.74 1013.33,801.53 1014.10,822.10 C1014.87,842.69 1015.91,863.80 1016.80,883.90 C1017.65,903.05 1018.50,921.27 1019.30,940.00 C1020.10,958.77 1020.72,976.83 1021.60,996.40 C1022.56,1017.66 1023.80,1040.74 1024.90,1062.90 C1026.00,1085.04 1027.10,1107.16 1028.20,1129.30 C1029.30,1151.46 1030.23,1173.65 1031.50,1195.80 C1032.77,1217.95 1034.30,1240.06 1035.80,1262.20 C1037.30,1284.36 1038.83,1306.55 1040.50,1328.70 C1042.17,1350.85 1043.81,1374.57 1045.80,1395.10 C1047.53,1412.91 1049.59,1430.39 1051.50,1444.90 C1052.99,1456.20 1054.62,1466.25 1056.00,1475.00 C1057.07,1481.77 1057.93,1486.88 1059.00,1493.00 C1060.12,1499.37 1061.35,1506.01 1062.60,1512.50 C1063.85,1518.98 1065.13,1525.80 1066.50,1531.90 C1067.74,1537.40 1068.93,1542.22 1070.40,1547.50 C1071.94,1553.04 1073.62,1558.93 1075.60,1564.40 C1077.53,1569.75 1079.31,1575.52 1082.10,1580.00 C1084.62,1584.05 1087.95,1587.15 1091.20,1590.40 C1094.45,1593.65 1097.72,1597.12 1101.60,1599.50 C1105.49,1601.89 1109.92,1603.38 1114.50,1604.70 C1119.39,1606.11 1124.56,1606.85 1130.10,1607.50 C1136.31,1608.23 1141.86,1608.34 1150.00,1608.60 C1162.89,1609.01 1176.33,1608.89 1200.00,1609.00 C1257.98,1609.26 1376.84,1609.24 1500.00,1609.30 C1697.38,1609.40 2013.73,1609.30 2270.60,1609.30" stroke="#008000" stroke-width="7"/>
</g>
</g>
<g style="font-size:65px">
<text transform="translate(325 1630.0) scale(1 1.045)" text-anchor="end">0.00</text>
<text transform="translate(325 1501.9) scale(1 1.045)" text-anchor="end">0.25</text>
<text transform="translate(325 1373.8) scale(1 1.045)" text-anchor="end">0.50</text>
<text transform="translate(325 1245.6) scale(1 1.045)" text-anchor="end">0.75</text>
<text transform="translate(325 1117.5) scale(1 1.045)" text-anchor="end">1.00</text>
<text transform="translate(325 989.4) scale(1 1.045)" text-anchor="end">1.25</text>
<text transform="translate(325 861.2) scale(1 1.045)" text-anchor="end">1.50</text>
<text transform="translate(325 733.1) scale(1 1.045)" text-anchor="end">1.75</text>
<text transform="translate(325 605.0) scale(1 1.045)" text-anchor="end">2.00</text>
<text transform="translate(325 476.9) scale(1 1.045)" text-anchor="end">2.25</text>
<text transform="translate(325 348.8) scale(1 1.045)" text-anchor="end">2.50</text>
<text transform="translate(325 220.6) scale(1 1.045)" text-anchor="end">2.75</text>
<text transform="translate(325 92.5) scale(1 1.045)" text-anchor="end">3.00</text>
<text transform="translate(525.7 1717.5) scale(1 1.045)" text-anchor="middle">400</text>
<text transform="translate(816.7 1717.5) scale(1 1.045)" text-anchor="middle">500</text>
<text transform="translate(1107.7 1717.5) scale(1 1.045)" text-anchor="middle">600</text>
<text transform="translate(1398.6 1717.5) scale(1 1.045)" text-anchor="middle">700</text>
<text transform="translate(1689.6 1717.5) scale(1 1.045)" text-anchor="middle">800</text>
<text transform="translate(1980.6 1717.5) scale(1 1.045)" text-anchor="middle">900</text>
<text transform="translate(2271.6 1717.5) scale(1 1.045)" text-anchor="middle">1000</text>
</g>
<text transform="translate(102 799) rotate(-90) scale(1 1.045)" text-anchor="middle" style="font-size:80px">Absorbance</text>
<text transform="translate(1323 1847.5) scale(1 1.045)" text-anchor="middle" style="font-size:79px">Wavelength, nm</text>
<text transform="translate(972.5 83) scale(1 0.883)" text-anchor="middle" style="font-size:94px;stroke:#000;stroke-width:2px">*</text>
<line x1="1801" y1="136.5" x2="1984" y2="136.5" stroke="#000" stroke-width="7" stroke-dasharray="19 16" />
<text transform="translate(2000 161.5) scale(1 1.045)" style="font-size:81px">A</text>
<line x1="1801" y1="233.8" x2="1984" y2="233.8" stroke="#0000ff" stroke-width="7" stroke-dasharray="19 16" />
<text transform="translate(2000 258.8) scale(1 1.045)" style="font-size:81px">B</text>
<line x1="1801" y1="332.5" x2="1984" y2="332.5" stroke="#ff0000" stroke-width="7" stroke-dasharray="19 16" />
<text transform="translate(2000 357.5) scale(1 1.045)" style="font-size:81px">C</text>
<line x1="1801" y1="431.6" x2="1984" y2="431.6" stroke="#000" stroke-width="7" />
<text transform="translate(2000 456.6) scale(1 1.045)" style="font-size:81px">A'</text>
<line x1="1801" y1="528.5" x2="1984" y2="528.5" stroke="#0000ff" stroke-width="7" />
<text transform="translate(2000 553.5) scale(1 1.045)" style="font-size:81px">B'</text>
<line x1="1801" y1="627.7" x2="1984" y2="627.7" stroke="#ff0000" stroke-width="7" />
<text transform="translate(2000 652.7) scale(1 1.045)" style="font-size:81px">C'</text>
<line x1="1801" y1="726.9" x2="1984" y2="726.9" stroke="#008000" stroke-width="7" />
<text transform="translate(2000 751.9) scale(1 1.045)" style="font-size:81px">Rh-B</text>
</svg>
</body></html>
